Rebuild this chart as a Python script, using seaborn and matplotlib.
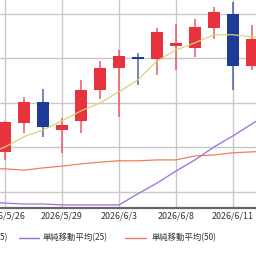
import numpy as np
import pandas as pd
import matplotlib
matplotlib.use("Agg")
import matplotlib.pyplot as plt
import seaborn as sns
from matplotlib.lines import Line2D

# ---- data ----
dates = ["2026/5/25", "2026/5/26", "2026/5/27", "2026/5/28", "2026/5/29",
         "2026/6/1", "2026/6/2", "2026/6/3", "2026/6/4", "2026/6/5",
         "2026/6/8", "2026/6/9", "2026/6/10", "2026/6/11", "2026/6/12",
         "2026/6/15"]
nan = np.nan
open_ = [nan, 1090, 1155, 1202, 1139, 1160, 1229, 1279, 1303, 1299, 1328, 1324, 1369, 1400, 1283, nan]
high = [nan, 1160, 1213, 1231, 1166, 1252, 1294, 1319, 1312, 1369, 1378, 1389, 1416, 1427, 1375, nan]
low = [nan, 1072, 1133, 1124, 1088, 1133, 1209, 1169, 1240, 1263, 1274, 1303, 1344, 1229, 1274, nan]
close = [nan, 1157, 1202, 1146, 1151, 1229, 1279, 1306, 1299, 1360, 1335, 1371, 1404, 1283, 1344, nan]
ma5 = [1083, 1101, 1124, 1139, 1160, 1182, 1200, 1225, 1252, 1294, 1319, 1335, 1353, 1353, 1348, 1342]
ma25 = [978, 975, 973, 973, 971, 971, 971, 971, 996, 1020, 1047, 1072, 1101, 1126, 1153, 1180]
ma50 = [1052, 1052, 1049, 1054, 1058, 1063, 1067, 1070, 1070, 1072, 1072, 1081, 1083, 1088, 1090, 1092]
tick_dates = ["2026/5/26", "2026/5/29", "2026/6/3", "2026/6/8", "2026/6/11"]
grid_prices = [1000, 1100, 1200, 1300, 1400]
legend_labels = ["単純移動平均(5)", "単純移動平均(25)", "単純移動平均(50)"]

df = pd.DataFrame({"date": dates, "open": open_, "high": high, "low": low,
                   "close": close, "ma5": ma5, "ma25": ma25, "ma50": ma50})
df["x"] = np.arange(len(df))

sns.set_style("white")
plt.rcParams["font.family"] = ["Noto Sans CJK JP", "DejaVu Sans"]

RED = "#E8323C"
BLUE = "#1C3C96"
RED_WICK = "#EA5A64"
BLUE_WICK = "#4A64A8"
C5 = "#D8D27C"
C25 = "#9B6BD6"
C50 = "#EE7F5A"

fig = plt.figure(figsize=(2.56, 2.56), dpi=100)
ax = fig.add_axes([0, 48 / 256, 1, 208 / 256])

cd = df.dropna(subset=["open"])
up = cd["close"] >= cd["open"]
cols = np.where(up, RED, BLUE)
wcols = np.where(up, RED_WICK, BLUE_WICK)
ax.vlines(cd["x"], cd["low"], cd["high"], colors=wcols, linewidth=1.1, zorder=2)
ax.bar(cd["x"], cd["close"] - cd["open"], bottom=cd["open"], width=0.66,
       color=cols, linewidth=0, zorder=3)

sns.lineplot(data=df, x="x", y="ma5", color=C5, linewidth=0.9, ax=ax, zorder=4)
sns.lineplot(data=df, x="x", y="ma25", color=C25, linewidth=0.9, ax=ax, zorder=4)
sns.lineplot(data=df, x="x", y="ma50", color=C50, linewidth=0.9, ax=ax, zorder=4)

ax.set_xlim((0 - 5) / 19 + 1, (256 - 5) / 19 + 1)
ax.set_ylim(964, 1431)
ax.set_xticks([dates.index(d) for d in tick_dates])
ax.set_xticklabels(tick_dates)
ax.set_yticks(grid_prices)
ax.set_yticklabels([])
ax.grid(True, color="#C8C8C8", linewidth=1.0)
ax.set_axisbelow(True)
ax.tick_params(axis="both", length=0, pad=2.5, labelsize=6.4, colors="#333333")
ax.set_xlabel("")
ax.set_ylabel("")
for s in ["top", "left", "right"]:
    ax.spines[s].set_visible(False)
ax.spines["bottom"].set_color("#666666")
ax.spines["bottom"].set_linewidth(1.6)

# legend (manually placed, partially cropped like the reference)
yf = 1 - 238 / 256
fig.text(8 / 256, yf, legend_labels[0], ha="right", va="center", fontsize=6.0, color="#333333")
fig.add_artist(Line2D([19 / 256, 39 / 256], [yf, yf], color=C25, linewidth=1.0, transform=fig.transFigure))
fig.text(43 / 256, yf, legend_labels[1], ha="left", va="center", fontsize=6.0, color="#333333")
fig.add_artist(Line2D([125 / 256, 146 / 256], [yf, yf], color=C50, linewidth=1.0, transform=fig.transFigure))
fig.text(152 / 256, yf, legend_labels[2], ha="left", va="center", fontsize=6.0, color="#333333")

fig.savefig("out.png", dpi=100)
